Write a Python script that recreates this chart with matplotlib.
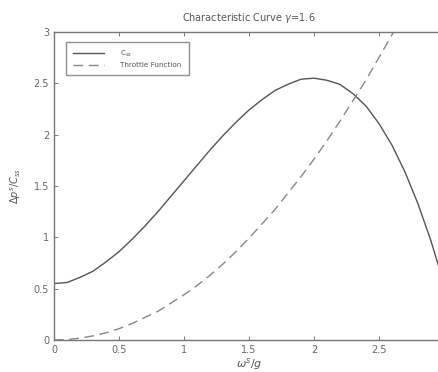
import matplotlib
matplotlib.use("Agg")
import matplotlib.pyplot as plt

# compressor characteristic
phi_c = [0.0, 0.1, 0.2, 0.3, 0.4, 0.5, 0.6, 0.7, 0.8, 0.9, 1.0,
         1.1, 1.2, 1.3, 1.4, 1.5, 1.6, 1.7, 1.8, 1.9, 2.0,
         2.1, 2.2, 2.3, 2.4, 2.5, 2.6, 2.7, 2.8, 2.9, 3.0]
psi_c = [0.55, 0.56, 0.61, 0.67, 0.76, 0.86, 0.98, 1.11, 1.25, 1.40, 1.55,
         1.70, 1.85, 1.99, 2.12, 2.24, 2.34, 2.43, 2.49, 2.54, 2.55,
         2.53, 2.49, 2.40, 2.28, 2.11, 1.90, 1.64, 1.33, 0.97, 0.55]

# throttle function
phi_t = [0.0, 0.1, 0.2, 0.3, 0.4, 0.5, 0.6, 0.7, 0.8, 0.9, 1.0,
         1.1, 1.2, 1.3, 1.4, 1.5, 1.6, 1.7, 1.8, 1.9, 2.0,
         2.1, 2.2, 2.3, 2.4, 2.5, 2.6, 2.7]
psi_t = [0.0, 0.004, 0.018, 0.04, 0.07, 0.11, 0.16, 0.22, 0.28, 0.36, 0.44,
         0.53, 0.63, 0.74, 0.86, 0.99, 1.13, 1.27, 1.43, 1.59, 1.76,
         1.94, 2.13, 2.33, 2.53, 2.75, 2.97, 3.21]

xticks = [0, 0.5, 1, 1.5, 2, 2.5]
xticklabels = ['0', '0.5', '1', '1.5', '2', '2.5']
yticks = [0, 0.5, 1, 1.5, 2, 2.5, 3]
yticklabels = ['0', '0.5', '1', '1.5', '2', '2.5', '3']

grey = '#555555'
fig = plt.figure(figsize=(4.39, 3.72), dpi=100)
ax = fig.add_axes([0.123, 0.086, 0.888, 0.828])

ax.plot(phi_c, psi_c, '-', color=grey, lw=1.0, label=r'C$_{ss}$')
ax.plot(phi_t, psi_t, '--', color='#888888', lw=1.0, dashes=(7, 4),
        label='Throttle Function')

ax.set_xlim(0, 3)
ax.set_ylim(0, 3)
ax.set_xticks(xticks)
ax.set_xticklabels(xticklabels)
ax.set_yticks(yticks)
ax.set_yticklabels(yticklabels)
ax.tick_params(direction='in', top=True, right=True, labelsize=7,
               colors='#666666', length=3, width=0.6)
for s in ax.spines.values():
    s.set_color('#777777')
    s.set_linewidth(1.0)

ax.set_title(r'Characteristic Curve $\gamma$=1.6', fontsize=7, color='#555555', pad=8)
ax.set_xlabel(r'$\omega^{s}/g$', fontsize=8, color='#555555', labelpad=1)
ax.set_ylabel(r'$\Delta p^{s}/C_{ss}$', fontsize=7, color='#555555', labelpad=8)

leg = ax.legend(loc='upper left', fontsize=5.2, frameon=True, fancybox=False,
                edgecolor='#777777', borderpad=1.0, handlelength=4.3,
                handletextpad=2.2, labelspacing=0.4,
                bbox_to_anchor=(0.022, 0.98))
leg.get_frame().set_linewidth(1.0)
for t in leg.get_texts():
    t.set_color('#555555')

fig.savefig('out.png', dpi=100)
